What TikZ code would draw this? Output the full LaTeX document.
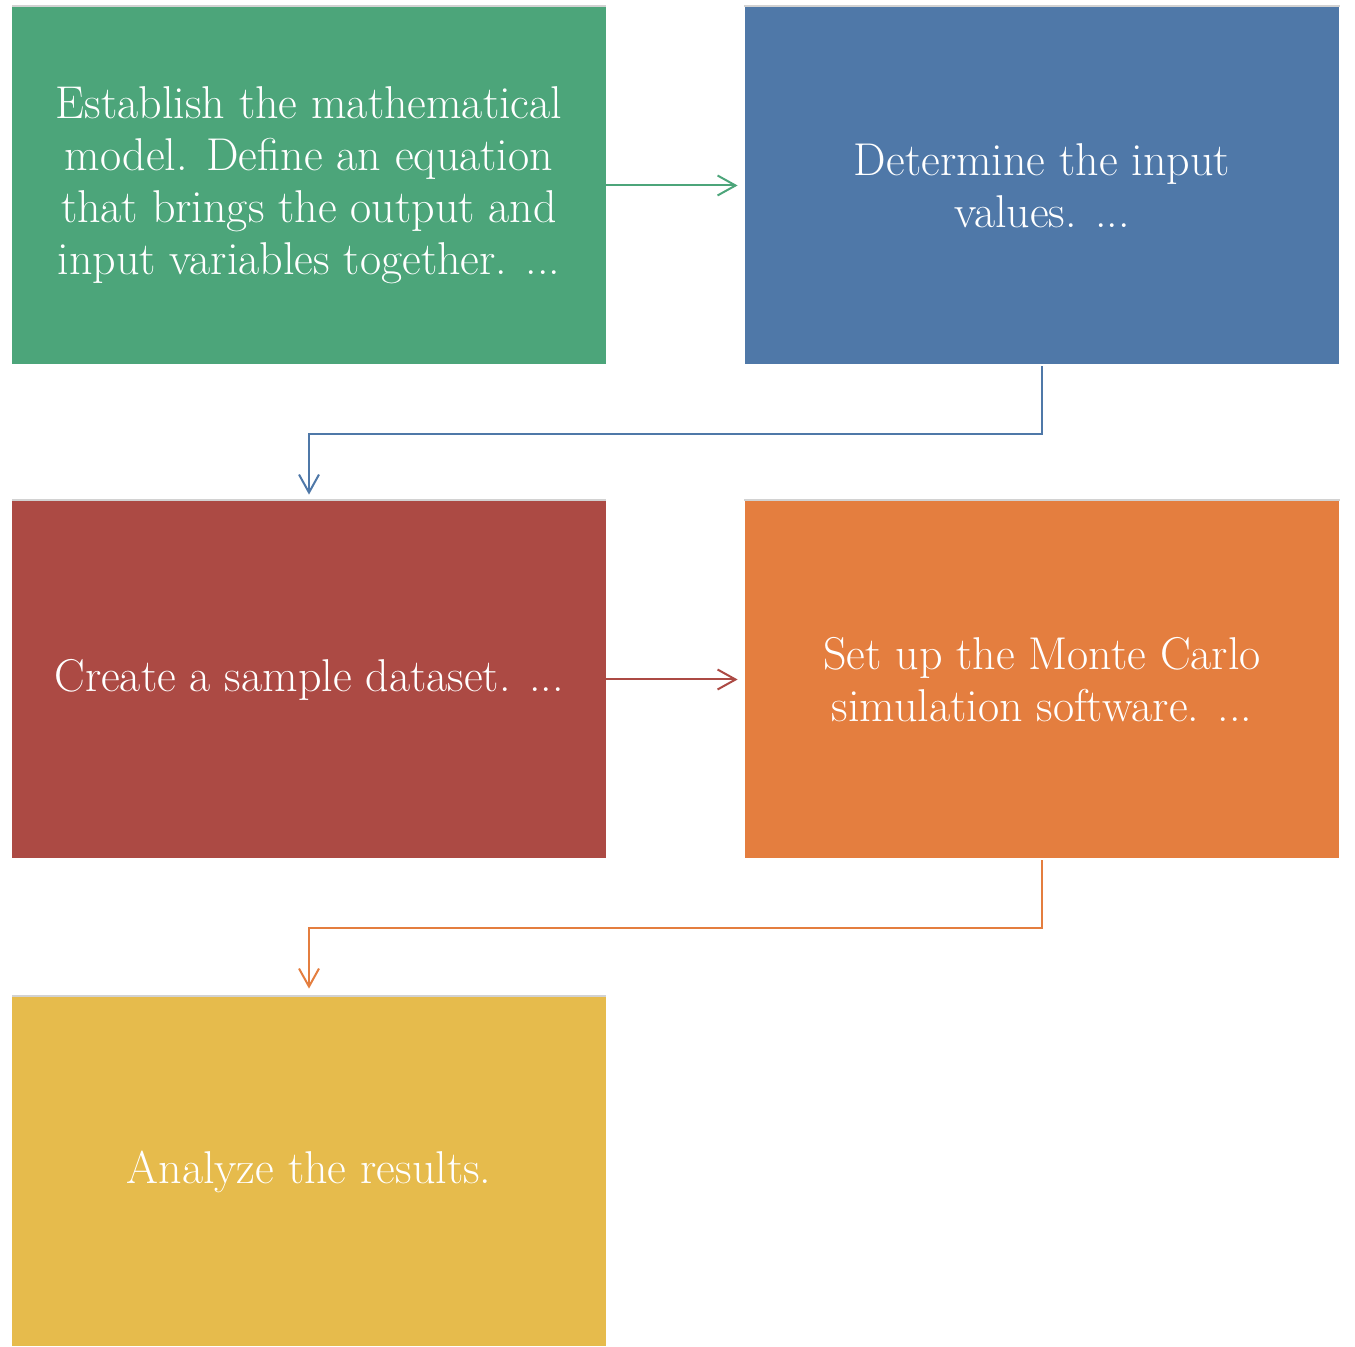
\documentclass[tikz,border=0pt]{standalone}
\usetikzlibrary{arrows.meta}
\definecolor{cgreen}{HTML}{4CA57A}
\definecolor{cblue}{HTML}{4F78A8}
\definecolor{cred}{HTML}{AC4A44}
\definecolor{corange}{HTML}{E47E3F}
\definecolor{cyellow}{HTML}{E6BB4C}
\tikzset{
  stepbox/.style={rectangle, minimum width=297pt, minimum height=178.5pt, inner sep=0pt,
    text=white, align=center, font=\fontsize{23}{26}\selectfont},
  conn/.style={line width=1pt, -{Straight Barb[length=9pt,width=10pt]}}
}
\begin{document}
\begin{tikzpicture}[x=0.5pt,y=-0.5pt]
\useasboundingbox (0,0) rectangle (1355,1347);
\fill[gray!35] (12,5) rectangle (606,7);
\fill[gray!35] (744,5) rectangle (1340,7);
\fill[gray!35] (12,499) rectangle (606,501);
\fill[gray!35] (744,499) rectangle (1340,501);
\fill[gray!35] (12,995) rectangle (606,997);
\node[stepbox, fill=cgreen] (b1) at (309,185.5) {Establish the mathematical\\model. Define an equation\\that brings the output and\\input variables together. ...};
\node[stepbox, fill=cblue] (b2) at (1042,185.5) {Determine the input\\values. ...};
\node[stepbox, fill=cred] (b3) at (309,679.5) {Create a sample dataset. ...};
\node[stepbox, fill=corange] (b4) at (1042,679.5) {Set up the Monte Carlo\\simulation software. ...};
\node[stepbox, fill=cyellow, minimum height=174.5pt] (b5) at (309,1171.5) {Analyze the results.};
\draw[conn, cgreen, shorten >=3.5pt] (b1.east) -- (b2.west);
\draw[conn, cblue, shorten <=1pt, shorten >=3pt] (b2.south) -- ++(0,70) -| (b3.north);
\draw[conn, cred, shorten >=3.5pt] (b3.east) -- (b4.west);
\draw[conn, corange, shorten <=1pt, shorten >=4pt] (b4.south) -- ++(0,70) -| (b5.north);
\end{tikzpicture}
\end{document}
